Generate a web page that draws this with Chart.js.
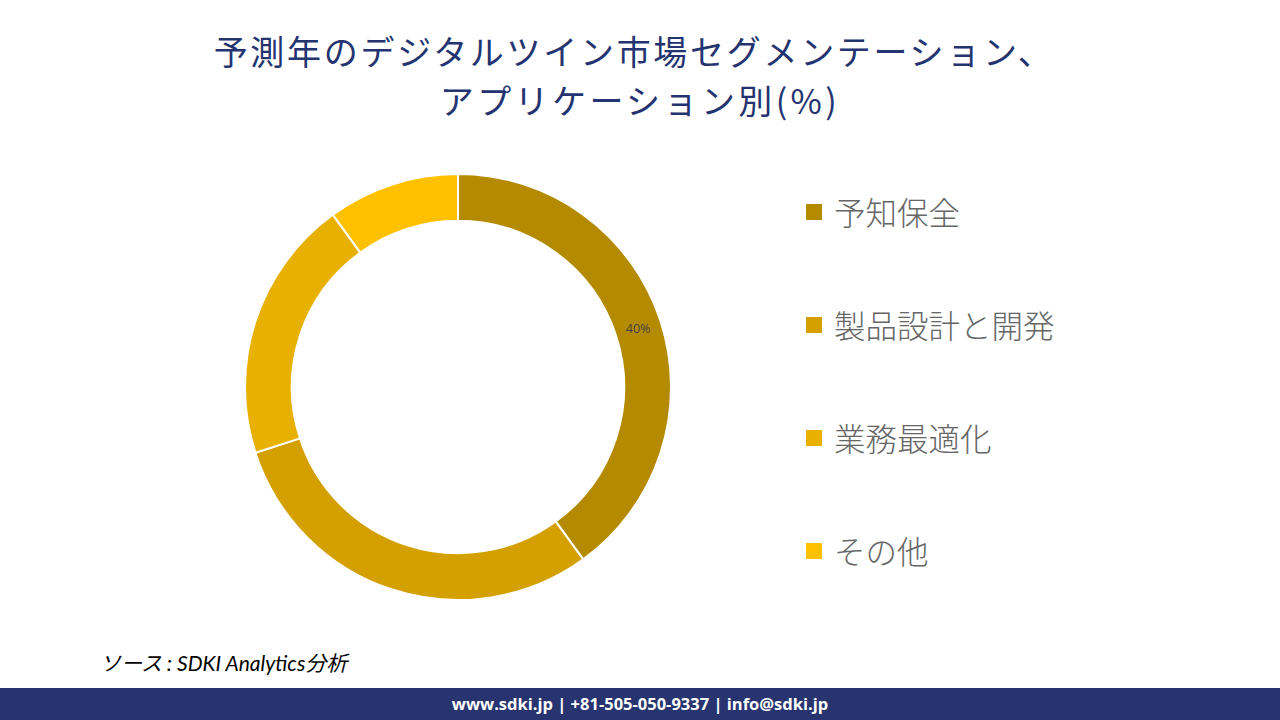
<!DOCTYPE html>
<html lang="ja">
<head>
<meta charset="utf-8">
<title>デジタルツイン市場セグメンテーション</title>
<script src="https://cdn.jsdelivr.net/npm/chart.js@4.4.1/dist/chart.umd.min.js"></script>
<style>
  html, body { margin:0; padding:0; background:#fff; }
  body { width:1280px; height:720px; position:relative; overflow:hidden; font-family:"Noto Sans CJK JP", sans-serif; }
  .title-line { position:absolute; left:0; width:1280px; text-align:center; color:#243470;
           font-family:"Noto Sans CJK JP", serif; font-size:34px; line-height:49px; font-weight:400; letter-spacing:2.7px; }
  #title1 { top:26px; left:-6px; }
  #title2 { top:75px; left:0px; letter-spacing:3.4px; }
  #chart-box { position:absolute; left:244px; top:173px; width:428px; height:428px; }
  #legend { position:absolute; left:806px; top:188px; }
  .legend-item { height:113px; display:flex; align-items:flex-start; }
  .legend-item .box { width:16px; height:16px; margin-top:16px; margin-right:12px; }
  .legend-item .txt { font-size:31.5px; line-height:46px; color:#666; font-weight:300; }
  #source { position:absolute; left:100px; top:647px; font-family:Lato, "Noto Sans CJK JP", sans-serif;
            font-style:italic; font-size:21px; color:#000; }
  #footer { position:absolute; left:0; top:688px; width:1280px; height:32px; background:#273470;
            color:#fff; text-align:center; font-family:"Open Sans", sans-serif; font-weight:700;
            font-size:16.5px; line-height:32px; }
</style>
</head>
<body>
<div id="title1" class="title-line">予測年のデジタルツイン市場セグメンテーション、</div>
<div id="title2" class="title-line">アプリケーション別(%)</div>
<div id="chart-box"><canvas id="donut"></canvas></div>
<div id="legend"></div>
<div id="source">ソース : SDKI Analytics分析</div>
<div id="footer">www.sdki.jp | +81-505-050-9337 | info@sdki.jp</div>

<script>
// chart data
const CATEGORIES = ["予知保全", "製品設計と開発", "業務最適化", "その他"];
const SHARES = [40, 30, 20, 10];
const COLORS = ["#B38A00", "#D4A000", "#E8B000", "#FFC000"];
// only the first slice carries a value label in the picture
const SHOW_LABEL = [true, false, false, false];

// draws "NN%" at the middle of each arc that should show one
const sliceLabels = {
  id: 'sliceLabels',
  afterDatasetsDraw(chart) {
    const ctx = chart.ctx;
    const meta = chart.getDatasetMeta(0);
    ctx.save();
    ctx.font = '12.5px "Open Sans", sans-serif';
    ctx.fillStyle = '#404040';
    ctx.textAlign = 'center';
    ctx.textBaseline = 'middle';
    meta.data.forEach((arc, i) => {
      if (!SHOW_LABEL[i]) return;
      const p = arc.tooltipPosition();
      ctx.fillText(SHARES[i] + '%', p.x, p.y + 1);
    });
    ctx.restore();
  }
};

function buildLegend() {
  const el = document.getElementById('legend');
  CATEGORIES.forEach((c, i) => {
    const item = document.createElement('div');
    item.className = 'legend-item';
    item.innerHTML = `<div class="box" style="background:${COLORS[i]}"></div><div class="txt">${c}</div>`;
    el.appendChild(item);
  });
}

function init() {
  buildLegend();
  new Chart(document.getElementById('donut'), {
    type: 'doughnut',
    data: {
      labels: CATEGORIES,
      datasets: [{
        data: SHARES,
        backgroundColor: COLORS,
        borderColor: '#ffffff',
        borderWidth: 2
      }]
    },
    options: {
      responsive: true,
      maintainAspectRatio: false,
      animation: false,
      cutout: '78%',
      layout: { padding: 0 },
      plugins: {
        legend: { display: false },
        tooltip: { enabled: false }
      }
    },
    plugins: [sliceLabels]
  });
}

window.addEventListener('DOMContentLoaded', init);
</script>
</body>
</html>
